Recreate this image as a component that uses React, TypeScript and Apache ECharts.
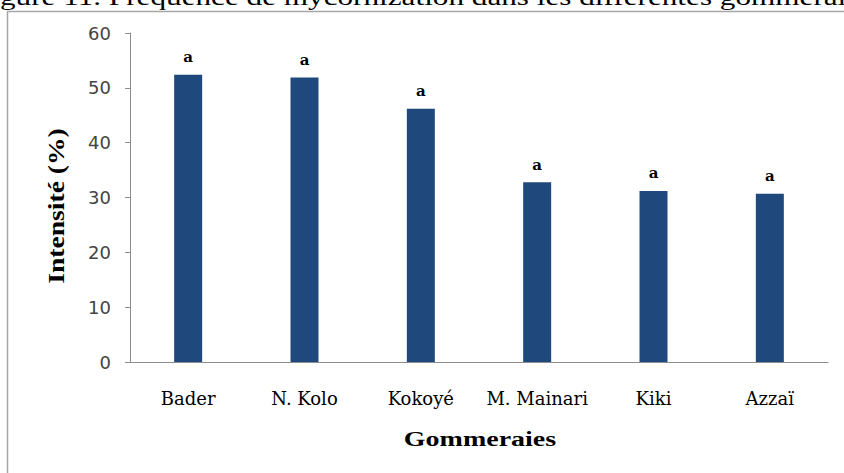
import React, { useEffect, useRef } from "react";
import * as echarts from "echarts";

const categories = ["Bader", "N. Kolo", "Kokoyé", "M. Mainari", "Kiki", "Azzaï"];
const values = [52.4, 51.9, 46.2, 32.8, 31.2, 30.7];
const letters = ["a", "a", "a", "a", "a", "a"];
const yTicks = [0, 10, 20, 30, 40, 50, 60];
const caption = "Figure 11. Fréquence de mycorhization dans les différentes gommeraies";
const xTitle = "Gommeraies";
const yTitle = "Intensité (%)";

export default function App() {
  const ref = useRef<HTMLDivElement>(null);
  useEffect(() => {
    if (!ref.current) return;
    const chart = echarts.init(ref.current, undefined, { renderer: "svg" });
    chart.setOption({
      animation: false,
      backgroundColor: "#ffffff",
      graphic: [
        {
          type: "text",
          x: -26,
          y: -15,
          scaleX: 1.3,
          style: {
            text: caption,
            font: "24px 'Liberation Serif', serif",
            fill: "#000",
            textVerticalAlign: "top",
          },
        },
        {
          type: "rect",
          shape: { x: 7.5, y: 11.5, width: 900, height: 480 },
          style: { fill: "none", stroke: "#a6a6a6", lineWidth: 1.5 },
          z: -1,
        },
        {
          type: "text",
          x: 480,
          y: 439,
          scaleX: 1.4,
          style: {
            text: xTitle,
            font: "bold 20px 'Liberation Serif', serif",
            fill: "#000",
            align: "center",
            verticalAlign: "middle",
          },
        },
        {
          type: "text",
          x: 56,
          y: 206,
          rotation: Math.PI / 2,
          scaleX: 1.15,
          style: {
            text: yTitle,
            font: "bold 24px 'Liberation Serif', serif",
            fill: "#000",
            align: "center",
            verticalAlign: "middle",
          },
        },
      ],
      grid: { left: 130, right: 16, top: 33, bottom: 111 },
      xAxis: {
        type: "category",
        data: categories,
        axisTick: { show: false },
        axisLine: { lineStyle: { color: "#8c8c8c", width: 1 } },
        axisLabel: {
          interval: 0,
          hideOverlap: false,
          color: "#000",
          fontFamily: "'DejaVu Serif', serif",
          fontSize: 18,
          margin: 27,
        },
      },
      yAxis: {
        type: "value",
        min: 0,
        max: 60,
        interval: 10,
        splitLine: { show: false },
        axisLine: { show: true, lineStyle: { color: "#8c8c8c", width: 1 } },
        axisTick: { show: true, length: 5, lineStyle: { color: "#8c8c8c" } },
        axisLabel: {
          color: "#444",
          fontFamily: "'DejaVu Sans', sans-serif",
          fontSize: 18,
          margin: 19,
          formatter: (v: number) => (yTicks.includes(v) ? String(v) : ""),
        },
      },
      series: [
        {
          type: "bar",
          data: values,
          barWidth: 28,
          itemStyle: { color: "#1f497d" },
          label: {
            show: true,
            position: "top",
            distance: 10,
            formatter: (p: any) => letters[p.dataIndex],
            color: "#000",
            fontFamily: "'DejaVu Serif', serif",
            fontSize: 15,
            fontWeight: "bold",
          },
        },
      ],
    });
    return () => chart.dispose();
  }, []);
  return <div ref={ref} style={{ width: 844, height: 473, position: "absolute", left: 0, top: 0 }} />;
}
